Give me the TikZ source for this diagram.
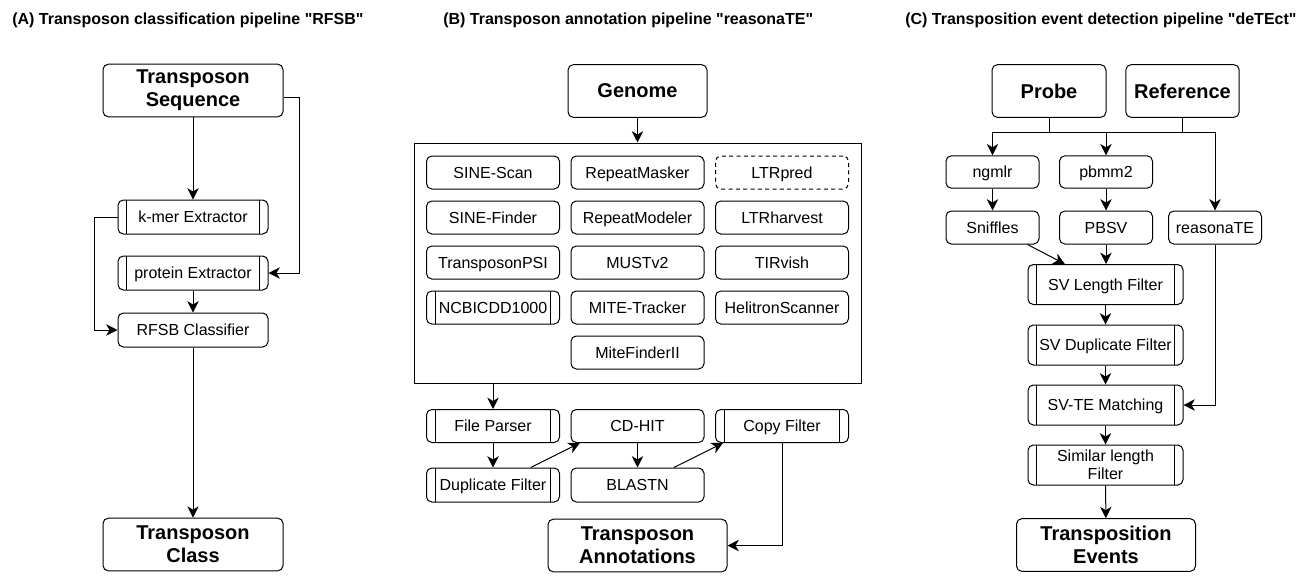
\documentclass[tikz,border=0pt]{standalone}
\usepackage{fontspec}
\setmainfont{Liberation Sans}
\usetikzlibrary{arrows.meta,positioning}

\begin{document}
\begin{tikzpicture}[x=0.75pt, y=-0.75pt,
	box/.style={draw, rounded corners=4pt, line width=0.75pt, inner sep=0pt, align=center, font=\fontsize{12}{13.8}\selectfont},
	sbox/.style={box, text height=10.3pt, text depth=1.7pt},
	hdr/.style={box, minimum height=39.5pt, font=\fontsize{15}{17.25}\selectfont\bfseries},
	tool/.style={sbox, minimum width=99.75pt, minimum height=24.75pt},
	proc/.style={path picture={\draw[line width=0.75pt]
		([xshift=6.5pt]path picture bounding box.north west) -- ([xshift=6.5pt]path picture bounding box.south west)
		([xshift=-6.5pt]path picture bounding box.north east) -- ([xshift=-6.5pt]path picture bounding box.south east);}},
	wire/.style={line width=0.75pt},
	arr/.style={line width=0.75pt, -{Stealth[length=8.5pt, width=8.5pt, inset=2.5pt]}},
	ttl/.style={anchor=west, inner sep=0pt, font=\fontsize{12}{14}\selectfont\bfseries}]
		\useasboundingbox (0,0) rectangle (1314,579);

		% (A) RFSB
		\node[ttl] (titleA) at (12,20) {(A) Transposon classification pipeline \textquotedbl RFSB\textquotedbl};
		\node[hdr, minimum width=135pt] (seqA) at (193,90.5) {Transposon\\Sequence};
		\node[sbox, proc, minimum width=112.5pt, minimum height=25.5pt] (kmer) at (193,217) {k-mer Extractor};
		\node[sbox, proc, minimum width=112.5pt, minimum height=25.5pt] (prot) at (193,273) {protein Extractor};
		\node[sbox, minimum width=112.5pt, minimum height=25.5pt] (rfsb) at (193,330) {RFSB Classifier};
		\node[hdr, minimum width=135pt] (classA) at (193,544.5) {Transposon\\Class};

		\draw [arr] (seqA) to (kmer);
		\draw [arr] ([yshift=-5pt]seqA.east) -- ++(16,0) |- (prot.east);
		\draw [arr] (kmer.west) -- ++(-23,0) |- (rfsb.west);
		\draw [arr] (prot) to (rfsb);
		\draw [arr] (rfsb) to (classA);

		% (B) reasonaTE
		\node[ttl] (titleB) at (443,20) {(B) Transposon annotation pipeline \textquotedbl reasonaTE\textquotedbl};
		\node[hdr, minimum width=104.25pt] (genome) at (637.5,91) {Genome};
		\node[draw, wire, minimum width=335.25pt, minimum height=180pt] (tools) at (637.5,263) {};

		\node[tool] (sscan) at (493,172.5) {SINE-Scan};
		\node[tool] (sfind) at (493,217.5) {SINE-Finder};
		\node[tool] (tpsi) at (493,262.5) {TransposonPSI};
		\node[tool, proc] (ncbi) at (493,307.5) {NCBICDD1000};
		\node[tool] (rmask) at (637.5,172.5) {RepeatMasker};
		\node[tool] (rmod) at (637.5,217.5) {RepeatModeler};
		\node[tool] (must) at (637.5,262.5) {MUSTv2};
		\node[tool] (mtrack) at (637.5,307.5) {MITE-Tracker};
		\node[tool] (mfind) at (637.5,352.5) {MiteFinderII};
		\node[tool, dash pattern=on 3pt off 2.5pt] (ltrpred) at (782,172.5) {LTRpred};
		\node[tool] (ltrharv) at (782,217.5) {LTRharvest};
		\node[tool] (tirvish) at (782,262.5) {TIRvish};
		\node[tool] (helitron) at (782,307.5) {HelitronScanner};

		\node[tool, proc] (parser) at (493,426) {File Parser};
		\node[tool] (cdhit) at (637.5,426) {CD-HIT};
		\node[tool, proc] (copyf) at (782,426) {Copy Filter};
		\node[tool, proc, minimum height=25.5pt] (dupB) at (493,485) {Duplicate Filter};
		\node[tool, minimum height=25.5pt] (blastn) at (637.5,485) {BLASTN};
		\node[hdr, minimum width=134.25pt] (annot) at (637.5,545.5) {Transposon\\Annotations};

		\draw [arr] (genome) to (tools);
		\draw [arr] (tools.south -| parser.north) to (parser.north);
		\draw [arr] (parser) to (dupB);
		\draw [arr] ([xshift=-22pt]dupB.north east) to ([xshift=7pt]cdhit.south west);
		\draw [arr] (cdhit) to (blastn);
		\draw [arr] ([xshift=-23pt]blastn.north east) to ([xshift=6pt]copyf.south west);
		\draw [arr] (copyf.south) |- (annot.east);

		% (C) deTEct
		\node[ttl] (titleC) at (905,20) {(C) Transposition event detection pipeline \textquotedbl deTEct\textquotedbl};
		\node[hdr, minimum width=85.5pt] (probe) at (1049,91) {Probe};
		\node[hdr, minimum width=85pt] (ref) at (1182.5,91) {Reference};
		\node[sbox, minimum width=69.75pt, minimum height=24.25pt] (ngmlr) at (992.5,172) {ngmlr};
		\node[sbox, minimum width=69.75pt, minimum height=24.25pt] (pbmm) at (1106,172) {pbmm2};
		\node[sbox, minimum width=69.75pt, minimum height=24.75pt] (sniff) at (992.5,227.5) {Sniffles};
		\node[sbox, minimum width=69.75pt, minimum height=24.75pt] (pbsv) at (1106,227.5) {PBSV};
		\node[sbox, minimum width=69.75pt, minimum height=24.75pt] (reason) at (1215,227.5) {reasonaTE};
		\node[sbox, proc, minimum width=116.25pt, minimum height=30pt] (lenf) at (1105.5,284.5) {SV Length Filter};
		\node[sbox, proc, minimum width=116.25pt, minimum height=30pt] (dupf) at (1105.5,345) {SV Duplicate Filter};
		\node[sbox, proc, minimum width=116.25pt, minimum height=30pt] (match) at (1105.5,405) {SV-TE Matching};
		\node[box, proc, minimum width=116.25pt, minimum height=30pt] (siml) at (1105.5,465) {Similar length\\Filter};
		\node[hdr, minimum width=134.25pt] (events) at (1106,545) {Transposition\\Events};

		\coordinate (busL) at (992.5,132);
		\coordinate (busR) at (1215,132);
		\draw [wire] (probe.south) -- (probe.south |- busL);
		\draw [wire] (ref.south) -- (ref.south |- busL);
		\draw [wire] (busL) -- (busR);
		\draw [arr] (busL) to (ngmlr);
		\draw [arr] (pbmm.north |- busL) to (pbmm);
		\draw [arr] (busR) to (reason);
		\draw [arr] (ngmlr) to (sniff);
		\draw [arr] (pbmm) to (pbsv);
		\draw [arr] ([xshift=-9pt]sniff.south east) to ([xshift=28pt]lenf.north west);
		\draw [arr] (pbsv.south) to (pbsv.south |- lenf.north);
		\draw [arr] (lenf) to (dupf);
		\draw [arr] (dupf) to (match);
		\draw [arr] (match) to (siml);
		\draw [arr] (siml) to (events);
		\draw [arr] (reason.south) |- (match.east);
\end{tikzpicture}
\end{document}
